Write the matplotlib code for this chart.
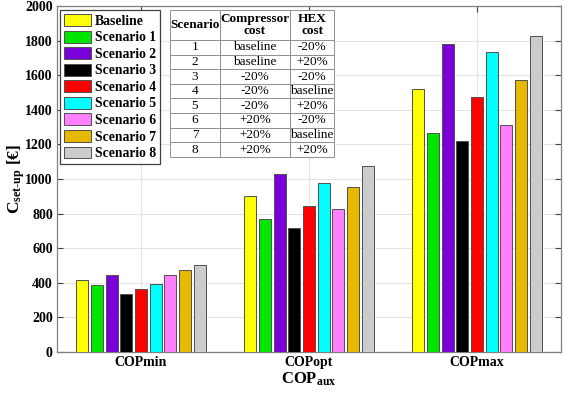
import numpy as np
import matplotlib
matplotlib.use("Agg")
import matplotlib.pyplot as plt
from matplotlib.patches import Patch

plt.rcParams['font.family'] = ['Liberation Serif', 'DejaVu Serif']
plt.rcParams['mathtext.fontset'] = 'custom'
plt.rcParams['mathtext.rm'] = 'Liberation Serif:bold'
plt.rcParams['mathtext.it'] = 'Liberation Serif:bold'
plt.rcParams['mathtext.bf'] = 'Liberation Serif:bold'

groups = ['COPmin', 'COPopt', 'COPmax']
series = ['Baseline', 'Scenario 1', 'Scenario 2', 'Scenario 3', 'Scenario 4',
          'Scenario 5', 'Scenario 6', 'Scenario 7', 'Scenario 8']
baseline = [416, 899, 1523]
scen1 = [387, 771, 1266]
scen2 = [446, 1028, 1782]
scen3 = [333, 719, 1217]
scen4 = [362, 846, 1475]
scen5 = [391, 976, 1733]
scen6 = [443, 825, 1312]
scen7 = [472, 951, 1573]
scen8 = [501, 1078, 1828]
values = [baseline, scen1, scen2, scen3, scen4, scen5, scen6, scen7, scen8]
colors = ['#ffff00', '#00e600', '#7a00d9', '#000000', '#ff0000',
          '#00ffff', '#ff80ff', '#e6b800', '#cccccc']

table_header = ['Scenario', 'Compressor\ncost', 'HEX\ncost']
table_scen = ['1', '2', '3', '4', '5', '6', '7', '8']
table_comp = ['baseline', 'baseline', '-20%', '-20%', '-20%', '+20%', '+20%', '+20%']
table_hex = ['-20%', '+20%', '-20%', 'baseline', '+20%', '-20%', 'baseline', '+20%']

fig = plt.figure(figsize=(5.65, 3.94), dpi=100)
ax = fig.add_axes([57/565, (394-352)/394, 504/565, 346/394])

x = np.arange(1, len(groups) + 1)
slot = 0.0873
bw = 0.072
n = len(series)
for i, (name, vals, c) in enumerate(zip(series, values, colors)):
    ax.bar(x + (i - (n - 1) / 2) * slot, vals, width=bw, color=c,
           edgecolor='#505050', linewidth=0.7, label=name, zorder=3)

ax.set_xlim(0.5, 3.5)
ax.set_ylim(0, 2000)
ax.set_yticks(np.arange(0, 2001, 200))
ax.set_xticks(x)
ax.set_xticklabels(groups)
ax.grid(True, color='#e3e3e3', linewidth=0.8, zorder=0)
ax.set_axisbelow(True)
ax.tick_params(direction='in', length=4, width=0.8, color='#404040',
               top=True, right=True, labelsize=10, pad=3)
for lab in ax.get_xticklabels() + ax.get_yticklabels():
    lab.set_fontweight('bold')
for s in ax.spines.values():
    s.set_color('#808080')
    s.set_linewidth(0.9)

ax.set_ylabel(r'C$_{\text{set-up}}$ [€]', fontsize=12.5, fontweight='bold')
ax.yaxis.set_label_coords(-0.060, 0.5)
ax.set_xlabel(r'COP$_{\text{aux}}$', fontsize=12, fontweight='bold', labelpad=1)

handles = [Patch(facecolor=c, edgecolor='#505050', linewidth=0.7) for c in colors]
leg = ax.legend(handles, series, loc='upper left', bbox_to_anchor=(0.006, 0.988),
                borderaxespad=0, fancybox=False, framealpha=1, edgecolor='#404040',
                prop={'weight': 'bold', 'size': 9.8}, handlelength=2.0,
                handleheight=0.95, labelspacing=0.22, handletextpad=0.25,
                borderpad=0.3)
leg.get_frame().set_linewidth(0.9)
leg.set_zorder(6)

cell_text = [[a, b, c] for a, b, c in zip(table_scen, table_comp, table_hex)]
tb = ax.table(cellText=[table_header] + cell_text, cellLoc='center',
              bbox=[(170-57)/504, (352-157)/346, (334-170)/504, (157-10)/346],
              colWidths=[50, 70, 44])
tb.auto_set_font_size(False)
tb.set_fontsize(9.5)
for (r, c), cell in tb.get_celld().items():
    cell.set_edgecolor('#909090')
    cell.set_linewidth(0.7)
    cell.set_facecolor('white')
    cell.PAD = 0.02
    if r == 0:
        cell.set_height(2.05)
        cell.get_text().set_fontweight('bold')
        cell.get_text().set_linespacing(1.1)
    else:
        cell.set_height(1.0)
tb.set_zorder(5)

fig.savefig('out.png', dpi=100)
